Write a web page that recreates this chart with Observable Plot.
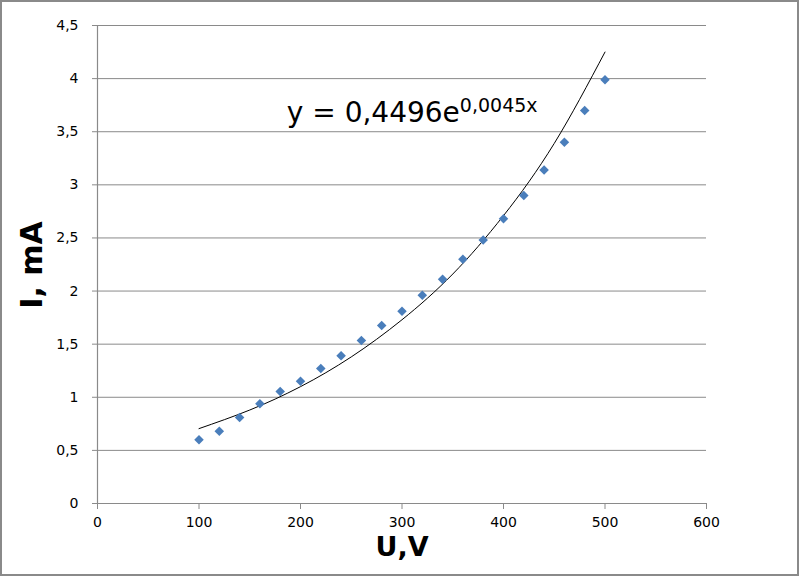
<!DOCTYPE html>
<html><head><meta charset="utf-8">
<script src="https://cdn.jsdelivr.net/npm/d3@7"></script>
<script src="https://cdn.jsdelivr.net/npm/@observablehq/plot@0.6"></script>
<style>
html,body{margin:0;padding:0;background:#fff;}
#chart{position:relative;width:799px;height:576px;}
#chart svg{display:block;}
#border{position:absolute;left:0;top:0;width:799px;height:576px;box-sizing:border-box;border:2px solid #8a8a8a;pointer-events:none;}
</style></head>
<body><div id="chart"><div id="border"></div></div>
<script>
const voltage = [100,120,140,160,180,200,220,240,260,280,300,320,340,360,380,400,420,440,460,480,500];
const current = [0.60,0.68,0.81,0.94,1.055,1.15,1.27,1.39,1.535,1.675,1.81,1.96,2.11,2.30,2.48,2.68,2.90,3.14,3.40,3.70,3.99];
const trendX = [100,150,200,250,300,350,400,450,500];
const trendY = [0.705,0.88,1.10,1.38,1.73,2.16,2.71,3.39,4.25];
const xTicks = [0,100,200,300,400,500,600];
const yTicks = [0,0.5,1,1.5,2,2.5,3,3.5,4,4.5];
const eqMain = "y = 0,4496e";
const eqSup = "0,0045x";
const eqPos = {x: 187, y: 3.59};

const points = voltage.map((u,i)=>({u, i: current[i]}));
const trend = trendX.map((u,i)=>({u, i: trendY[i]}));
const fmt = d => String(d).replace(".", ",");
const FONT = "'DejaVu Sans', sans-serif";

const plot = Plot.plot({
  width: 799, height: 576,
  marginLeft: 97, marginRight: 93, marginTop: 25, marginBottom: 73,
  style: {fontFamily: FONT, fontSize: "14px", color: "#000", background: "transparent"},
  x: {domain: [0,600], ticks: xTicks, label: null},
  y: {domain: [0,4.5], ticks: yTicks, label: null},
  marks: [
    Plot.ruleY(yTicks.filter(d=>d>0), {stroke: "#8a8a8a", strokeWidth: 1, strokeOpacity: 1}),
    Plot.ruleY([0], {stroke: "#8a8a8a", strokeWidth: 1.2}),
    Plot.ruleX([0], {stroke: "#8a8a8a", strokeWidth: 1.2}),
    Plot.axisX({ticks: xTicks, tickSize: 6, tickPadding: 8, stroke: "#8a8a8a", fill: "#000", tickFormat: d=>String(d), label: null}),
    Plot.axisY({ticks: yTicks, tickSize: 5, tickPadding: 14, stroke: "#8a8a8a", fill: "#000", tickFormat: fmt, label: null}),
    Plot.line(trend, {x: "u", y: "i", curve: "natural", stroke: "#000", strokeWidth: 1}),
    Plot.dot(points, {x: "u", y: "i", symbol: "diamond2", r: 4.3, fill: "#4a7ebb", stroke: "none"})
  ]
});
document.getElementById("chart").prepend(plot);

const svg = d3.select(plot);
const sx = plot.scale("x"), sy = plot.scale("y");
const eq = svg.append("text")
  .attr("x", sx.apply(eqPos.x)).attr("y", sy.apply(eqPos.y))
  .attr("text-anchor", "start")
  .attr("font-family", FONT).attr("font-size", 28).attr("fill", "#000");
eq.append("tspan").text(eqMain);
eq.append("tspan").attr("dy", -10).attr("font-size", 19).text(eqSup);

svg.append("text")
  .attr("transform", `translate(42,265) rotate(-90)`)
  .attr("text-anchor", "middle").attr("font-family", FONT)
  .attr("font-size", 30).attr("font-weight", "bold").attr("fill", "#000")
  .text("I, mA");

svg.append("text")
  .attr("x", 402).attr("y", 556)
  .attr("text-anchor", "middle").attr("font-family", FONT)
  .attr("font-size", 27).attr("font-weight", "bold").attr("fill", "#000")
  .text("U,V");
</script></body></html>
